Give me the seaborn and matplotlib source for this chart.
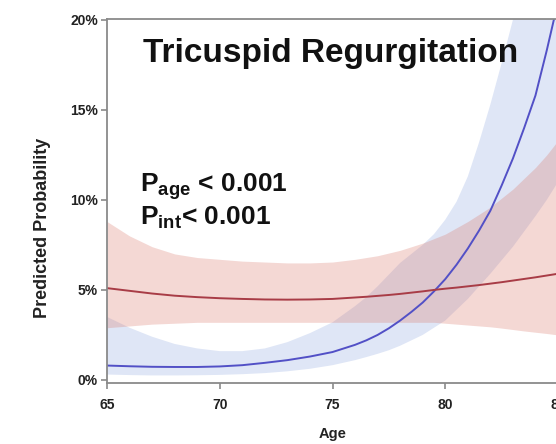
import matplotlib
matplotlib.use("Agg")
import matplotlib.pyplot as plt
import pandas as pd
import seaborn as sns

# Predicted probability (%) of tricuspid regurgitation by age, two groups
age = [65, 66, 67, 68, 69, 70, 71, 72, 73, 74, 75, 76,
       76.5, 77, 77.5, 78, 78.5, 79, 79.5, 80, 80.5, 81, 81.5, 82,
       82.5, 83, 83.5, 84, 84.5, 85]

blue_prob = [0.80, 0.76, 0.73, 0.72, 0.72, 0.75, 0.82, 0.95, 1.10, 1.30, 1.55, 1.95,
             2.20, 2.50, 2.87, 3.30, 3.78, 4.30, 4.92, 5.60, 6.40, 7.30, 8.30, 9.40,
             10.8, 12.3, 14.0, 15.8, 18.3, 21.0]
blue_upper = [3.5, 2.9, 2.4, 2.0, 1.75, 1.6, 1.6, 1.75, 2.1, 2.6, 3.2, 4.1,
              4.6, 5.2, 5.85, 6.5, 7.0, 7.5, 8.1, 8.9, 9.9, 11.3, 13.2, 15.3,
              17.6, 20.0, 22.5, 25.0, 28.0, 31.0]
blue_lower = [0.30, 0.27, 0.25, 0.25, 0.26, 0.28, 0.32, 0.38, 0.48, 0.62, 0.82, 1.10,
              1.27, 1.45, 1.65, 1.90, 2.20, 2.50, 2.90, 3.30, 3.90, 4.50, 5.20, 5.90,
              6.65, 7.40, 8.25, 9.10, 10.0, 11.0]

red_prob = [5.10, 4.95, 4.80, 4.68, 4.60, 4.54, 4.50, 4.47, 4.46, 4.47, 4.50, 4.58,
            4.62, 4.67, 4.72, 4.78, 4.85, 4.92, 5.00, 5.07, 5.13, 5.20, 5.27, 5.35,
            5.43, 5.52, 5.61, 5.70, 5.80, 5.90]
red_upper = [8.8, 8.0, 7.4, 7.0, 6.8, 6.7, 6.6, 6.55, 6.5, 6.5, 6.55, 6.7,
             6.8, 6.9, 7.05, 7.2, 7.4, 7.6, 7.85, 8.1, 8.45, 8.8, 9.2, 9.6,
             10.1, 10.6, 11.2, 11.8, 12.5, 13.3]
red_lower = [2.9, 3.0, 3.1, 3.15, 3.2, 3.2, 3.2, 3.2, 3.2, 3.2, 3.2, 3.2,
             3.2, 3.2, 3.2, 3.2, 3.2, 3.2, 3.2, 3.15, 3.1, 3.05, 3.0, 2.95,
             2.88, 2.8, 2.72, 2.65, 2.58, 2.5]

x_ticks = [65, 70, 75, 80, 85]
y_ticks = [0, 5, 10, 15, 20]
y_tick_labels = ["0%", "5%", "10%", "15%", "20%"]

title = "Tricuspid Regurgitation"
p_age_text = r"$\mathbf{P_{age}}$ < 0.001"
p_int_text = r"$\mathbf{P_{int}}$< 0.001"

sns.set_style("ticks")
plt.rcParams["font.family"] = ["Liberation Sans", "DejaVu Sans"]
plt.rcParams["mathtext.fontset"] = "custom"
plt.rcParams["mathtext.rm"] = "Liberation Sans"
plt.rcParams["mathtext.bf"] = "Liberation Sans:bold"

df = pd.DataFrame({
    "age": age * 2,
    "prob": blue_prob + red_prob,
    "group": ["blue"] * len(age) + ["red"] * len(age),
})

W, H = 556, 444
fig = plt.figure(figsize=(W / 100, H / 100), dpi=100)
ax = fig.add_axes([107 / W, (H - 383) / H, 451 / W, 364 / H])

ax.fill_between(age, blue_lower, blue_upper, color=(0.55, 0.65, 0.88),
                alpha=0.28, lw=0)
ax.fill_between(age, red_lower, red_upper, color=(0.85, 0.45, 0.40),
                alpha=0.28, lw=0)

sns.lineplot(data=df, x="age", y="prob", hue="group",
             palette={"blue": "#5250C6", "red": "#A83C46"},
             linewidth=1.4, legend=False, ax=ax)

ax.set_xlim(65, 85)
ax.set_ylim(-0.17, 20.05)
ax.set_xticks(x_ticks, [str(t) for t in x_ticks], fontweight="bold")
ax.set_yticks(y_ticks, y_tick_labels, fontweight="bold")
ax.tick_params(axis="both", direction="out", length=4, width=1.1,
               color="#808080", labelsize=10, labelcolor="#222222")
ax.tick_params(axis="x", pad=7)
ax.tick_params(axis="y", pad=2.5)

for side in ["left", "right", "top", "bottom"]:
    ax.spines[side].set_visible(True)
    ax.spines[side].set_color("#8A8A8A")
    ax.spines[side].set_linewidth(1.3)

ax.set_xlabel("Age", fontsize=10.5, fontweight="bold", color="#222222")
ax.set_ylabel("Predicted Probability", fontsize=13, fontweight="bold",
              color="#222222")
ax.xaxis.set_label_coords(226 / 451, -44 / 364)
ax.yaxis.set_label_coords(-56 / 451, 155 / 364)

fig.text(143 / W, (H - 62) / H, title, fontsize=24, fontweight="bold",
         color="#111111", va="baseline", ha="left")
fig.text(140 / W, (H - 192) / H, p_age_text, fontsize=19, fontweight="bold",
         color="#111111", va="baseline", ha="left")
fig.text(140 / W, (H - 225) / H, p_int_text, fontsize=19, fontweight="bold",
         color="#111111", va="baseline", ha="left")

fig.savefig("out.png", dpi=100)
